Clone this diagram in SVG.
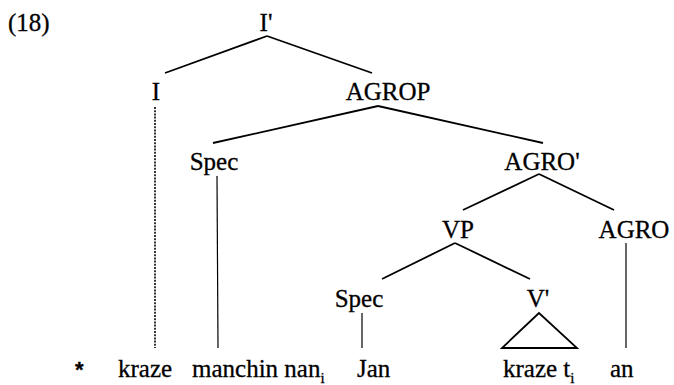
<svg xmlns="http://www.w3.org/2000/svg" width="674" height="385" viewBox="0 0 674 385">
<style>
text{font-family:"Liberation Serif","Times New Roman",serif;font-size:25px;fill:#000;stroke:#000;stroke-width:0.3}
.n{text-anchor:middle}
.sub{font-size:15px}
.br{stroke:#000;stroke-width:1.8;fill:none}
.vt{stroke:#000;stroke-width:1.2;fill:none}
.dt{stroke:#000;stroke-width:1.6;stroke-dasharray:2 1.2;fill:none}
</style>
<rect width="674" height="385" fill="#fff"/>
<text x="8" y="31">(18)</text>
<g id="connectors">
<line class="br" x1="267" y1="36" x2="165" y2="73"/>
<line class="br" x1="267" y1="36" x2="372" y2="73"/>
<line class="br" x1="378" y1="106" x2="213" y2="143"/>
<line class="br" x1="378" y1="106" x2="543" y2="143"/>
<line class="br" x1="539" y1="174" x2="463" y2="210"/>
<line class="br" x1="539" y1="174" x2="614" y2="210"/>
<line class="br" x1="455" y1="243" x2="382" y2="279"/>
<line class="br" x1="455" y1="243" x2="530" y2="279"/>
<line class="dt" x1="155" y1="107" x2="155" y2="348"/>
<line class="vt" x1="217" y1="176" x2="218" y2="348"/>
<line class="vt" x1="626" y1="243" x2="626" y2="348"/>
<line class="vt" x1="362" y1="313" x2="362" y2="348"/>
<polygon class="br" points="539,313 502,348 577,348"/>
</g>
<g id="n-Ibar"><text class="n" x="266" y="31">I'</text></g>
<g id="n-I"><text class="n" x="156" y="100">I</text></g>
<g id="n-AGROP"><text class="n" x="388" y="100">AGROP</text></g>
<g id="n-Spec1"><text class="n" x="214" y="170">Spec</text></g>
<g id="n-AGRObar"><text class="n" x="542" y="170">AGRO'</text></g>
<g id="n-VP"><text class="n" x="458" y="238">VP</text></g>
<g id="n-AGRO"><text class="n" x="634" y="238">AGRO</text></g>
<g id="n-Spec2"><text class="n" x="359" y="307">Spec</text></g>
<g id="n-Vbar"><text class="n" x="538" y="307">V'</text></g>
<g id="words">
<text x="75" y="377" style="font-family:'Liberation Sans',Arial,sans-serif;font-weight:bold;font-size:22px">*</text>
<text x="118" y="377">kraze</text>
<text x="192" y="377">manchin nan<tspan class="sub" dy="6">i</tspan></text>
<text x="357" y="377">Jan</text>
<text x="503" y="377">kraze t<tspan class="sub" dy="6">i</tspan></text>
<text x="610" y="377">an</text>
</g>
</svg>
